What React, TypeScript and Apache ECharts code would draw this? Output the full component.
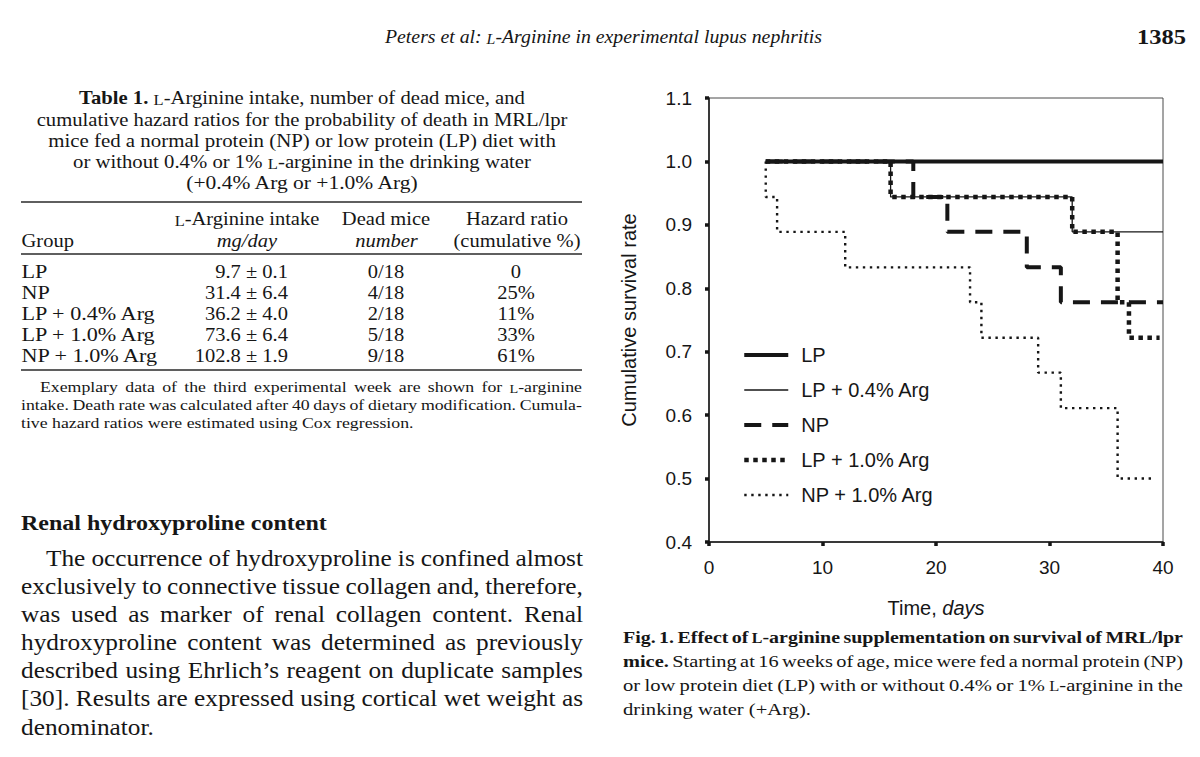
import React, { useEffect, useRef } from 'react';
import * as echarts from 'echarts';

// ---------------- chart data ----------------
const groups = ['LP', 'LP + 0.4% Arg', 'NP', 'LP + 1.0% Arg', 'NP + 1.0% Arg'];
const lpTimes = [5, 40];
const lpRates = [1.0, 1.0];
const lp04Times = [5, 16, 32, 40];
const lp04Rates = [1.0, 0.944, 0.889, 0.889];
const npTimes = [5, 18, 21, 28, 31, 40];
const npRates = [1.0, 0.944, 0.889, 0.833, 0.778, 0.778];
const lp10Times = [5, 16, 32, 36, 37, 39.7];
const lp10Rates = [1.0, 0.944, 0.889, 0.778, 0.722, 0.722];
const np10Times = [5, 5, 6, 12, 23, 24, 29, 31, 36, 39.3];
const np10Rates = [1.0, 0.944, 0.889, 0.833, 0.778, 0.722, 0.667, 0.611, 0.5, 0.5];

const xMin = 0, xMax = 40, xStep = 10;
const yMin = 0.4, yMax = 1.1, yStep = 0.1;
const xName = 'Time, {i|days}';
const yName = 'Cumulative survival rate';

// ---------------- table data ----------------
const tableGroups = ['LP', 'NP', 'LP + 0.4% Arg', 'LP + 1.0% Arg', 'NP + 1.0% Arg'];
const tableIntake = ['9.7 ± 0.1', '31.4 ± 6.4', '36.2 ± 4.0', '73.6 ± 6.4', '102.8 ± 1.9'];
const tableDead = ['0/18', '4/18', '2/18', '5/18', '9/18'];
const tableHazard = ['0', '25%', '11%', '33%', '61%'];

// ---------------- page texts ----------------
const headerLine = 'Peters et al: {sc|L}-Arginine in experimental lupus nephritis';
const pageNumber = '1385';
const tableTitle = [
  '{b|Table 1.} {sc|L}-Arginine intake, number of dead mice, and',
  'cumulative hazard ratios for the probability of death in MRL/lpr',
  'mice fed a normal protein (NP) or low protein (LP) diet with',
  'or without 0.4% or 1% {sc|L}-arginine in the drinking water',
  '(+0.4% Arg or +1.0% Arg)',
];
const tableNote = [
  'Exemplary data of the third experimental week are shown for {sc|L}-arginine',
  'intake. Death rate was calculated after 40 days of dietary modification. Cumula-',
  'tive hazard ratios were estimated using Cox regression.',
];
const sectionHeading = 'Renal hydroxyproline content';
const paragraph = [
  'The occurrence of hydroxyproline is confined almost',
  'exclusively to connective tissue collagen and, therefore,',
  'was used as marker of renal collagen content. Renal',
  'hydroxyproline content was determined as previously',
  'described using Ehrlich\u2019s reagent on duplicate samples',
  '[30]. Results are expressed using cortical wet weight as',
  'denominator.',
];
const caption = [
  'Fig. 1. Effect of {sc|L}-arginine supplementation on survival of MRL/lpr',
  '{b|mice.} Starting at 16 weeks of age, mice were fed a normal protein (NP)',
  'or low protein diet (LP) with or without 0.4% or 1% {sc|L}-arginine in the',
  'drinking water (+Arg).',
];

// ---------------- text helpers ----------------
const INK = '#161616';
const SERIF = 'Liberation Serif';
const SANS = 'Liberation Sans';
const SC = 0.8;

type Font = { size: number; weight: string; fstyle: string; family: string };
type Seg = { key: string | null; s: string };

let _ctx: CanvasRenderingContext2D | null = null;
function cx2d() {
  if (!_ctx) _ctx = document.createElement('canvas').getContext('2d');
  return _ctx as CanvasRenderingContext2D;
}
function parse(t: string): Seg[] {
  const out: Seg[] = [];
  const re = /\{(\w+)\|([^}]*)\}/g;
  let last = 0;
  let m: RegExpExecArray | null;
  while ((m = re.exec(t))) {
    if (m.index > last) out.push({ key: null, s: t.slice(last, m.index) });
    out.push({ key: m[1], s: m[2] });
    last = re.lastIndex;
  }
  if (last < t.length) out.push({ key: null, s: t.slice(last) });
  return out;
}
function segFont(f: Font, key: string | null): Font {
  if (key === 'sc') return { ...f, size: f.size * SC };
  if (key === 'b') return { ...f, weight: 'bold' };
  if (key === 'i') return { ...f, fstyle: 'italic' };
  return f;
}
function measure(t: string, f: Font) {
  const c = cx2d();
  return parse(t).reduce((a, sg) => {
    const ff = segFont(f, sg.key);
    c.font = `${ff.fstyle} ${ff.weight} ${ff.size}px "${ff.family}"`;
    return a + c.measureText(sg.s).width;
  }, 0);
}
function richOf(f: Font) {
  const mk = (ff: Font) => ({ fontSize: ff.size, fontWeight: ff.weight, fontStyle: ff.fstyle, fontFamily: ff.family, fill: INK });
  return {
    sc: { ...mk(segFont(f, 'sc')), verticalAlign: 'bottom' },
    b: mk(segFont(f, 'b')),
    i: mk(segFont(f, 'i')),
  };
}
function textNode(t: string, x: number, y: number, f: Font, align: string, sx: number) {
  return {
    type: 'text',
    x,
    y,
    scaleX: sx,
    silent: true,
    style: {
      text: t,
      fontSize: f.size,
      fontWeight: f.weight,
      fontStyle: f.fstyle,
      fontFamily: f.family,
      fill: INK,
      align,
      verticalAlign: 'middle',
      textAlign: align,
      textVerticalAlign: 'middle',
      rich: richOf(f),
    },
  };
}
function fitNode(t: string, x: number, y: number, f: Font, align: string, w: number) {
  return textNode(t, x, y, f, align, w / measure(t, f));
}
function justified(t: string, x: number, y: number, w: number, f: Font, sx: number) {
  const words = t.split(' ');
  let ws = words.map((wd) => measure(wd, f) * sx);
  const sum = ws.reduce((a, b) => a + b, 0);
  let s = sx;
  const minGap = 0.2 * f.size;
  let gap = (w - sum) / (words.length - 1);
  if (gap < minGap) {
    const k = (w - minGap * (words.length - 1)) / sum;
    s = sx * k;
    ws = ws.map((v) => v * k);
    gap = minGap;
  }
  let px = x;
  return words.map((wd, i) => {
    const el = textNode(wd, px, y, f, 'left', s);
    px += ws[i] + gap;
    return el;
  });
}
const F = (size: number, weight = 'normal', fstyle = 'normal', family = SERIF): Font => ({ size, weight, fstyle, family });

function buildGraphics() {
  const els: any[] = [];
  // running header
  els.push(fitNode(headerLine, 385, 37, F(18, 'normal', 'italic'), 'left', 437));
  els.push(fitNode(pageNumber, 1186, 37, F(21, 'bold'), 'right', 49));

  // table title
  const titleY = [98, 120, 141, 162, 183];
  const titleW = [446, 531, 508, 458, 234];
  tableTitle.forEach((t, i) => els.push(fitNode(t, 302, titleY[i], F(18), 'center', titleW[i])));

  // table rules
  const rule = (y: number, lw: number) => ({
    type: 'line', silent: true,
    shape: { x1: 21, y1: y, x2: 582, y2: y },
    style: { stroke: '#2a2a2a', lineWidth: lw },
  });
  els.push(rule(202, 1.6), rule(254, 1.3), rule(370, 1.6));

  // table header + body
  const tf = F(18);
  const tsx = 102 / measure('Hazard ratio', tf);
  const tfi = F(18, 'normal', 'italic');
  els.push(textNode('{sc|L}-Arginine intake', 247, 219, tf, 'center', tsx));
  els.push(textNode('Dead mice', 386, 219, tf, 'center', tsx));
  els.push(textNode('Hazard ratio', 517, 219, tf, 'center', tsx));
  els.push(textNode('Group', 21.5, 241, tf, 'left', tsx));
  els.push(textNode('mg/day', 247, 241, tfi, 'center', tsx));
  els.push(textNode('number', 386.5, 241, tfi, 'center', tsx));
  els.push(textNode('(cumulative %)', 517, 241, tf, 'center', tsx));
  const rowY = [272, 293, 314, 335, 356];
  tableGroups.forEach((g, i) => {
    els.push(textNode(g, 21.5, rowY[i], tf, 'left', tsx * 1.08));
    els.push(textNode(tableIntake[i], 288, rowY[i], tf, 'right', tsx));
    els.push(textNode(tableDead[i], 386, rowY[i], tf, 'center', tsx));
    els.push(textNode(tableHazard[i], 516, rowY[i], tf, 'center', tsx));
  });

  // table note
  const nf = F(15.5);
  const nsx = 393 / measure(tableNote[2], nf);
  els.push(...justified(tableNote[0], 40, 387, 542, nf, nsx));
  els.push(...justified(tableNote[1], 21, 405, 561, nf, nsx));
  els.push(textNode(tableNote[2], 21, 423, nf, 'left', nsx));

  // section heading
  els.push(fitNode(sectionHeading, 21, 523, F(20.5, 'bold'), 'left', 306));

  // paragraph
  const pf = F(22.5);
  const psx = 133 / measure(paragraph[6], pf);
  const pY = [558, 586, 614, 642, 670, 698, 727];
  paragraph.forEach((t, i) => {
    if (i === paragraph.length - 1) els.push(textNode(t, 21, pY[i], pf, 'left', psx));
    else if (i === 0) els.push(...justified(t, 46, pY[i], 537, pf, psx));
    else els.push(...justified(t, 21, pY[i], 562, pf, psx));
  });

  // figure caption
  const cf = F(17);
  const cfb = F(17, 'bold');
  const csx = 188 / measure(caption[3], cf);
  const cY = [637, 661, 685, 709];
  els.push(...justified(caption[0], 623, cY[0], 560, cfb, csx));
  els.push(...justified(caption[1], 623, cY[1], 560, cf, csx));
  els.push(...justified(caption[2], 623, cY[2], 560, cf, csx));
  els.push(textNode(caption[3], 623, cY[3], cf, 'left', csx));
  return els;
}

const zip = (ts: number[], vs: number[]) => ts.map((t, i) => [t, vs[i]]);

function buildOption() {
  const lineSeries = (name: string, data: number[][], width: number, type: any) => ({
    name,
    type: 'line',
    step: 'end',
    symbol: 'none',
    silent: true,
    data,
    itemStyle: { color: INK },
    lineStyle: { color: INK, width, type, cap: 'butt' },
  });
  return {
    animation: false,
    backgroundColor: '#ffffff',
    textStyle: { fontFamily: SANS },
    grid: {
      left: 709, top: 98, width: 454, height: 444,
      show: true, borderColor: '#4a4a4a', borderWidth: 1, backgroundColor: 'transparent',
    },
    xAxis: {
      type: 'value', min: xMin, max: xMax, interval: xStep,
      name: xName, nameLocation: 'middle', nameGap: 56,
      nameTextStyle: { fontSize: 20, fontFamily: SANS, color: INK, rich: { i: { fontSize: 20, fontFamily: SANS, fontStyle: 'italic', color: INK } } },
      axisLine: { show: true, onZero: false, lineStyle: { color: INK, width: 1.5 } },
      axisTick: { show: true, length: 4, lineStyle: { color: INK, width: 3.5 } },
      axisLabel: { fontSize: 19, fontFamily: SANS, color: INK, margin: 16 },
      splitLine: { show: false },
    },
    yAxis: {
      type: 'value', min: yMin, max: yMax, interval: yStep,
      name: yName, nameLocation: 'middle', nameGap: 70, nameRotate: 90,
      nameTextStyle: { fontSize: 20, fontFamily: SANS, color: INK },
      axisLine: { show: true, onZero: false, lineStyle: { color: INK, width: 1.5 } },
      axisTick: { show: true, length: 4, lineStyle: { color: INK, width: 3.5 } },
      axisLabel: { fontSize: 19, fontFamily: SANS, color: INK, margin: 17, formatter: (v: number) => v.toFixed(1) },
      splitLine: { show: false },
    },
    legend: {
      data: groups,
      orient: 'vertical',
      left: 742,
      top: 344,
      padding: 0,
      itemWidth: 44,
      itemHeight: 14,
      itemGap: 13,
      selectedMode: false,
      itemStyle: { opacity: 0, borderWidth: 0 },
      lineStyle: { width: 'inherit', type: 'inherit' },
      textStyle: { fontSize: 20, fontFamily: SANS, color: INK, lineHeight: 22, padding: [0, 0, 0, 8] },
    },
    series: [
      lineSeries(groups[0], zip(lpTimes, lpRates), 4, 'solid'),
      lineSeries(groups[1], zip(lp04Times, lp04Rates), 1.3, 'solid'),
      lineSeries(groups[2], zip(npTimes, npRates), 4, [17, 11]),
      lineSeries(groups[3], zip(lp10Times, lp10Rates), 4.5, [4.5, 4.5]),
      lineSeries(groups[4], zip(np10Times, np10Rates), 2.4, [2.4, 4.6]),
    ],
    graphic: buildGraphics(),
  };
}

export default function App() {
  const ref = useRef<HTMLDivElement>(null);
  useEffect(() => {
    if (!ref.current) return;
    const chart = echarts.init(ref.current, null, { renderer: 'svg' });
    chart.setOption(buildOption() as any);
    return () => chart.dispose();
  }, []);
  return (
    <div
      ref={ref}
      style={{ position: 'absolute', left: 0, top: 0, width: 1200, height: 757, background: '#fff' }}
    />
  );
}
